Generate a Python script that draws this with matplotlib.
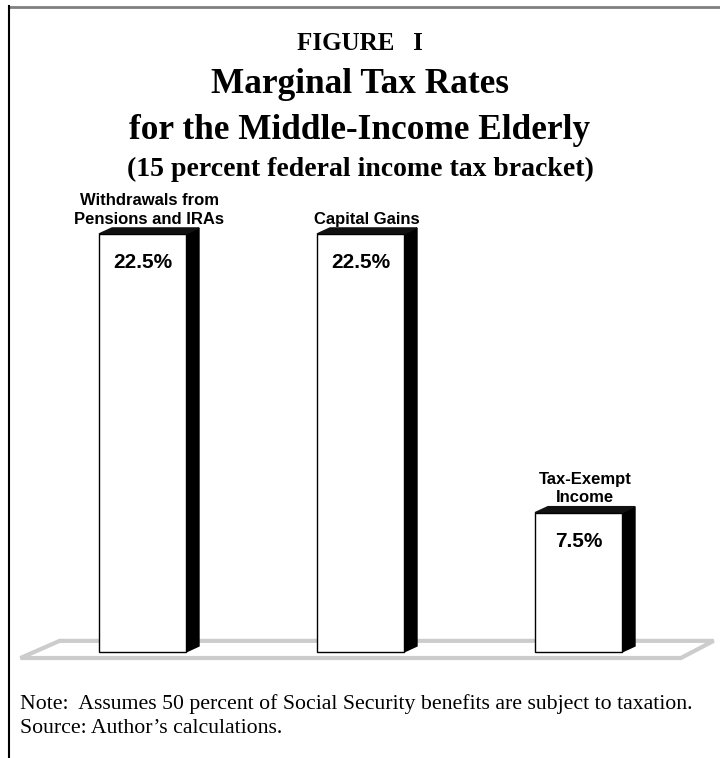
import numpy as np
import matplotlib.pyplot as plt
from matplotlib.patches import Polygon
from matplotlib.lines import Line2D

plt.rcParams['figure.dpi'] = 100

# data
categories = ['Withdrawals from\nPensions and IRAs', 'Capital Gains', 'Tax-Exempt\nIncome']
rates = [22.5, 22.5, 7.5]
value_labels = ['22.5%', '22.5%', '7.5%']

W, H = 720, 758
fig = plt.figure(figsize=(W / 100, H / 100))

def fy(px):
    # pixel row from top -> figure fraction
    return 1 - px / H

serif = 'Liberation Serif'
sans = 'Liberation Sans'

##### frame #####
fig.add_artist(Line2D([9 / W, 1], [fy(6.5)] * 2, color='#808080', lw=2))
fig.add_artist(Line2D([9 / W] * 2, [fy(6), 0], color='black', lw=1.5))

##### titles #####
fig.text(0.5, fy(50), 'FIGURE   I', family=serif, weight='bold', fontsize=18,
         ha='center', va='baseline')
fig.text(0.5, fy(93), 'Marginal Tax Rates', family=serif, weight='bold', fontsize=25.4,
         ha='center', va='baseline')
fig.text(0.5, fy(139), 'for the Middle-Income Elderly', family=serif, weight='bold', fontsize=25.4,
         ha='center', va='baseline')
fig.text(0.5, fy(176), '(15 percent federal income tax bracket)', family=serif, weight='bold',
         fontsize=20, ha='center', va='baseline')

##### bars #####
ax = fig.add_axes([0, fy(680), 1, (680 - 200) / H])
px_unit = 18.58          # pixels per percentage point
spacing = 218.0          # pixels between bar centres
ax.set_xlim(-0.5 - 33.5 / spacing, -0.5 + (W - 33.5) / spacing)
ax.set_ylim(-(680 - 652) / px_unit, (652 - 200) / px_unit)
ax.axis('off')

x = np.arange(len(rates))
width = 87 / spacing
dx = 13 / spacing
dy = 6 / px_unit

# floor
fl = x[0] - 0.56
fr = x[-1] + 0.47
floor = Polygon([[fl, -dy], [fr, -dy], [fr + 0.15, 0.6], [fl + 0.18, 0.6]],
                closed=True, fill=False, edgecolor='#cccccc', lw=3, zorder=1)
ax.add_patch(floor)

bars = ax.bar(x, rates, width=width, color='white', edgecolor='black', lw=1, zorder=3)

for b, h, lab, cat in zip(bars, rates, value_labels, categories):
    x0 = b.get_x()
    x1 = x0 + b.get_width()
    side = Polygon([[x1, 0], [x1, h], [x1 + dx, h + dy], [x1 + dx, dy]],
                   closed=True, facecolor='black', edgecolor='black', lw=1, zorder=2)
    top = Polygon([[x0, h], [x1, h], [x1 + dx, h + dy], [x0 + dx, h + dy]],
                  closed=True, facecolor='#111111', edgecolor='#111111', lw=1, zorder=2)
    ax.add_patch(side)
    ax.add_patch(top)
    ax.text(x0 + b.get_width() / 2, h - 1.55, lab, family=sans, weight='bold',
            fontsize=15, ha='center', va='center', zorder=4)
    ax.text(x0 + (b.get_width() + dx) / 2, h + 0.4, cat, family=sans, weight='bold',
            fontsize=12, ha='center', va='bottom', linespacing=1.3)

##### notes #####
fig.text(20 / W, fy(709), 'Note:  Assumes 50 percent of Social Security benefits are subject to taxation.',
         family=serif, fontsize=15.7, ha='left', va='baseline')
fig.text(20 / W, fy(733), 'Source: Author\u2019s calculations.',
         family=serif, fontsize=15.7, ha='left', va='baseline')

fig.savefig('out.png', dpi=100)
